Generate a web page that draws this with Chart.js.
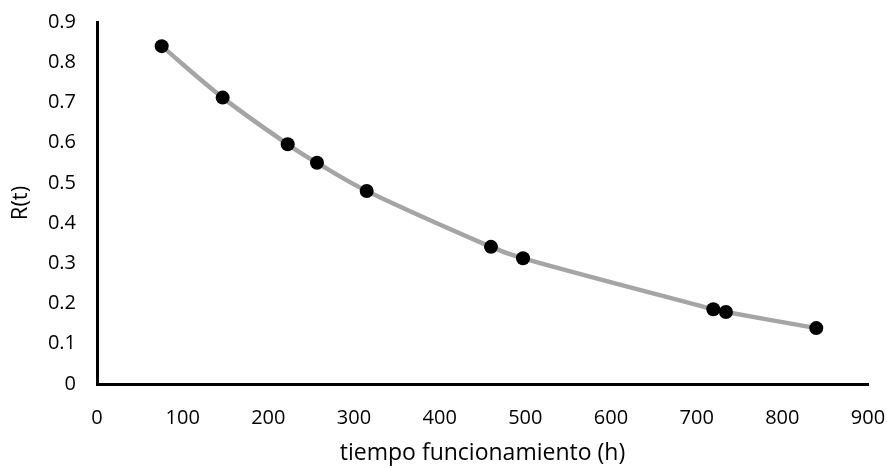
<!DOCTYPE html>
<html>
<head>
<meta charset="utf-8">
<script src="https://cdn.jsdelivr.net/npm/chart.js@4/dist/chart.umd.min.js"></script>
<style>
    html, body { margin: 0; padding: 0; background: #fff; }
    #wrap { width: 887px; height: 468px; }
</style>
</head>
<body>
<div id="wrap"><canvas id="relChart"></canvas></div>
<script>
const hours = [75.5, 146.7, 222.6, 256.8, 314.8, 459.9, 497.3, 719.4, 734.2, 839.6];
const reliability = [0.840, 0.712, 0.596, 0.550, 0.480, 0.341, 0.3125, 0.186, 0.179, 0.139];
const xTitle = 'tiempo funcionamiento (h)';
const yTitle = 'R(t)';

const font = '"Open Sans", sans-serif';

new Chart(document.getElementById('relChart'), {
    type: 'scatter',
    data: {
        datasets: [{
            data: hours.map((h, i) => ({ x: h, y: reliability[i] })),
            showLine: true,
            borderColor: '#a5a5a5',
            borderWidth: 4.5,
            tension: 0.35,
            pointRadius: 7,
            pointHoverRadius: 7,
            pointBackgroundColor: '#000',
            pointBorderColor: '#000',
            pointBorderWidth: 0,
        }],
    },
    options: {
        responsive: true,
        maintainAspectRatio: false,
        animation: false,
        layout: { padding: { left: 0, right: 19, top: 22, bottom: 0 } },
        plugins: {
            legend: { display: false },
            tooltip: { enabled: false },
        },
        scales: {
            x: {
                min: 0,
                max: 900,
                ticks: { stepSize: 100, color: '#000', padding: 22, font: { family: font, size: 20 } },
                grid: { drawOnChartArea: false, drawTicks: false },
                border: { color: '#000', width: 3 },
                title: { display: true, text: xTitle, color: '#000', padding: { top: 0, bottom: 1 }, font: { family: font, size: 23 } },
                afterFit: (axis) => {
                    axis.height = 84;
                    axis.paddingLeft = 0;
                    axis.paddingRight = 0;
                },
            },
            y: {
                min: 0,
                max: 0.9,
                ticks: { stepSize: 0.1, color: '#000', padding: 21, font: { family: font, size: 20 },
                    callback: (v) => Math.round(v * 10) / 10 },
                grid: { drawOnChartArea: false, drawTicks: false },
                border: { color: '#000', width: 3 },
                title: { display: true, text: yTitle, color: '#000', padding: { top: 8, bottom: 0 }, font: { family: font, size: 22 } },
                afterFit: (axis) => {
                    axis.width = 97;
                    axis.paddingTop = 0;
                    axis.paddingBottom = 0;
                },
            },
        },
    },
});
</script>
</body>
</html>
